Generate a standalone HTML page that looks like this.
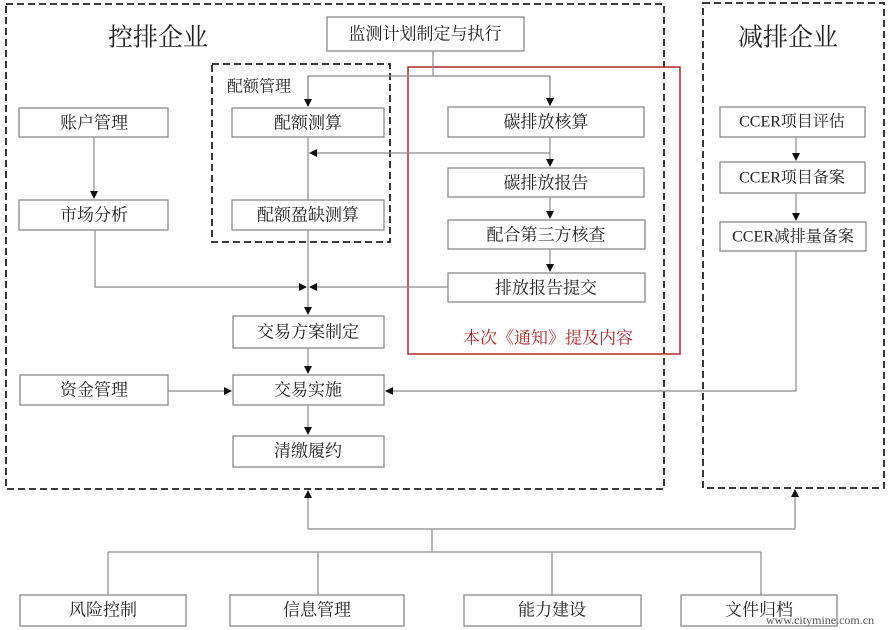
<!DOCTYPE html>
<html><head><meta charset="utf-8"><style>
html,body{margin:0;padding:0;background:#fff}
svg{display:block}
text{font-family:"Liberation Serif","Noto Serif CJK SC",serif;fill:#222;text-anchor:middle;dominant-baseline:central}
.b{fill:#fff;stroke:#8a8a8a;stroke-width:1.3}
.l{stroke:#8a8a8a;stroke-width:1.2;fill:none}
.d{fill:none;stroke:#222;stroke-width:1.8;stroke-dasharray:7,4}
</style></head><body>
<svg width="888" height="630" viewBox="0 0 888 630" xmlns="http://www.w3.org/2000/svg">
<defs><marker id="a" markerWidth="8" markerHeight="8" refX="7" refY="4" orient="auto" markerUnits="userSpaceOnUse"><path d="M0,0 L8,4 L0,8 z" fill="#111"/></marker></defs>
<rect class="d" x="6" y="4" width="658" height="485"/>
<rect class="d" x="703" y="3" width="181" height="485"/>
<rect class="d" x="212" y="64" width="178" height="178"/>
<rect x="408" y="67" width="272" height="287" fill="none" stroke="#b02a2a" stroke-width="1.5"/>
<text x="158" y="38" style="font-size:25px">控排企业</text>
<text x="788" y="38" style="font-size:25px">减排企业</text>
<text x="259" y="87" style="font-size:16px">配额管理</text>
<text x="548" y="338" style="font-size:17px;fill:#b02a2a">本次《通知》提及内容</text>
<!-- connectors -->
<path class="l" d="M433 51 V76 M308 76 H550 M308 76 V106 M550 76 V105" marker-end="url(#a)"/>
<path class="l" d="M308 76 V106" marker-end="url(#a)"/>
<path class="l" d="M550 76 V105" marker-end="url(#a)"/>
<path class="l" d="M550 137 V166" marker-end="url(#a)"/>
<path class="l" d="M550 153 H310" marker-end="url(#a)"/>
<path class="l" d="M550 197 V218" marker-end="url(#a)"/>
<path class="l" d="M550 249 V271" marker-end="url(#a)"/>
<path class="l" d="M308 137 V200"/>
<path class="l" d="M308 230 V314" marker-end="url(#a)"/>
<path class="l" d="M95 230 V287 H306" marker-end="url(#a)"/>
<path class="l" d="M448 287 H310" marker-end="url(#a)"/>
<path class="l" d="M94 137 V198" marker-end="url(#a)"/>
<path class="l" d="M308 348 V373" marker-end="url(#a)"/>
<path class="l" d="M168 391 H231" marker-end="url(#a)"/>
<path class="l" d="M796 251 V391 H386" marker-end="url(#a)"/>
<path class="l" d="M308 405 V434" marker-end="url(#a)"/>
<path class="l" d="M796 137 V160" marker-end="url(#a)"/>
<path class="l" d="M796 193 V220" marker-end="url(#a)"/>
<path class="l" d="M308 529 V491" marker-end="url(#a)"/>
<path class="l" d="M795 529 V490" marker-end="url(#a)"/>
<path class="l" d="M308 529 H795 M432 529 V552 M108 552 H761 M108 552 V595 M318 552 V595 M552 552 V595 M761 552 V595"/>
<!-- boxes -->
<rect class="b" x="327" y="17" width="197" height="34"/><text x="425" y="34" style="font-size:17px">监测计划制定与执行</text>
<rect class="b" x="19" y="108" width="149" height="29"/><text x="94" y="123" style="font-size:17px">账户管理</text>
<rect class="b" x="19" y="200" width="149" height="30"/><text x="94" y="215" style="font-size:17px">市场分析</text>
<rect class="b" x="232" y="108" width="152" height="29"/><text x="308" y="123" style="font-size:17px">配额测算</text>
<rect class="b" x="232" y="200" width="152" height="30"/><text x="308" y="215" style="font-size:17px">配额盈缺测算</text>
<rect class="b" x="448" y="107" width="196" height="30"/><text x="546" y="122" style="font-size:17px">碳排放核算</text>
<rect class="b" x="448" y="168" width="196" height="29"/><text x="546" y="183" style="font-size:17px">碳排放报告</text>
<rect class="b" x="448" y="220" width="197" height="29"/><text x="546" y="235" style="font-size:17px">配合第三方核查</text>
<rect class="b" x="448" y="273" width="197" height="29"/><text x="546" y="288" style="font-size:17px">排放报告提交</text>
<rect class="b" x="720" y="107" width="145" height="30"/><text x="792" y="122" style="font-size:16px">CCER项目评估</text>
<rect class="b" x="720" y="162" width="145" height="31"/><text x="792" y="178" style="font-size:16px">CCER项目备案</text>
<rect class="b" x="720" y="222" width="146" height="29"/><text x="793" y="237" style="font-size:16px">CCER减排量备案</text>
<rect class="b" x="233" y="316" width="151" height="32"/><text x="308" y="332" style="font-size:17px">交易方案制定</text>
<rect class="b" x="20" y="375" width="148" height="30"/><text x="94" y="390" style="font-size:17px">资金管理</text>
<rect class="b" x="233" y="375" width="151" height="30"/><text x="308" y="390" style="font-size:17px">交易实施</text>
<rect class="b" x="233" y="436" width="151" height="31"/><text x="308" y="451" style="font-size:17px">清缴履约</text>
<rect class="b" x="20" y="595" width="166" height="31"/><text x="103" y="610" style="font-size:17px">风险控制</text>
<rect class="b" x="230" y="595" width="174" height="31"/><text x="317" y="610" style="font-size:17px">信息管理</text>
<rect class="b" x="464" y="595" width="177" height="31"/><text x="552" y="610" style="font-size:17px">能力建设</text>
<rect class="b" x="681" y="595" width="156" height="31"/><text x="759" y="610" style="font-size:17px">文件归档</text>
<text x="820" y="620" style="font-size:12px;fill:#555">www.citymine.com.cn</text>
</svg>
</body></html>
